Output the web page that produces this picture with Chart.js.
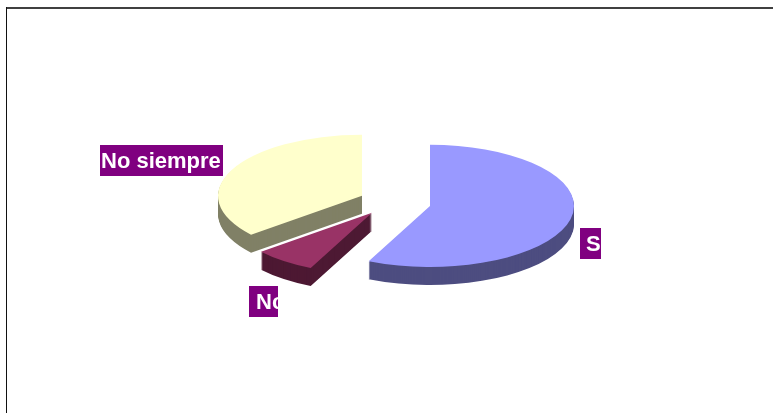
<!DOCTYPE html>
<html>
<head>
<meta charset="utf-8">
<style>
    html, body { margin: 0; padding: 0; background: #fff; overflow: hidden; }
    canvas { display: block; }
</style>
<script src="https://cdn.jsdelivr.net/npm/chart.js@4/dist/chart.umd.min.js"></script>
</head>
<body>
<canvas id="pieChart" width="773" height="413"></canvas>
<script>
const categories = ['Si', 'No', 'No siempre'];
const values = [57, 7, 36];
const topColors = ['#9999ff', '#993366', '#ffffcc'];
const sideColors = ['#4d4d80', '#4d1933', '#808066'];

// tilt of the pie, height of its side wall, how far slices are pulled out
const squash = 0.424;
const depth = 18;
const explode = 36.7;

// small per slice corrections, in pixels
const nudgeX = [0, 0, 1];
const nudgeY = [0, -2, 0];

// Label boxes, the text is cut at the box edge like in the original
const labelBoxes = [
    { x: 580, y: 228, w: 21, h: 31, indent: 6 },
    { x: 249, y: 286, w: 29, h: 31, indent: 7 },
    { x: 100, y: 145, w: 123, h: 31, indent: 1 }
];

// Draw one slice squashed, pulled out and moved down by "down" pixels
function drawSlice(ctx, arc, i, down) {
    const mid = (arc.startAngle + arc.endAngle) / 2;
    // whole pixel x so the straight edges stay sharp
    const apexX = Math.round(arc.x + Math.cos(mid) * explode) + nudgeX[i];
    ctx.save();
    ctx.translate(apexX - arc.x, arc.y + down + nudgeY[i]);
    ctx.scale(1, squash);
    ctx.translate(0, -arc.y + Math.sin(mid) * explode);
    arc.draw(ctx);
    ctx.restore();
}

const pie3d = {
    id: 'pie3d',
    beforeDraw(chart) {
        const ctx = chart.ctx;
        ctx.save();
        ctx.fillStyle = '#fff';
        ctx.fillRect(0, 0, chart.width, chart.height);
        // frame, only top and left fall inside the picture
        ctx.fillStyle = '#404040';
        ctx.fillRect(6, 7, 767, 2);
        ctx.fillStyle = '#111';
        ctx.fillRect(6, 7, 1, 406);
        ctx.restore();
    },
    beforeDatasetDraw(chart, args) {
        const ctx = chart.ctx;
        const arcs = chart.getDatasetMeta(args.index).data;
        // side walls: the same arcs repeated downwards in the dark colour
        arcs.forEach((arc, i) => {
            const opts = arc.options;
            arc.options = Object.create(opts, {
                backgroundColor: { value: sideColors[i] }
            });
            for (let d = depth; d >= 1; d--) {
                drawSlice(ctx, arc, i, d);
            }
            arc.options = opts;
        });
        arcs.forEach((arc, i) => drawSlice(ctx, arc, i, 0));
        return false;
    },
    afterDraw(chart) {
        const ctx = chart.ctx;
        ctx.save();
        ctx.font = 'bold 22px "Liberation Sans", Arial, sans-serif';
        ctx.textBaseline = 'middle';
        categories.forEach((label, i) => {
            const box = labelBoxes[i];
            ctx.save();
            ctx.beginPath();
            ctx.rect(box.x, box.y, box.w, box.h);
            ctx.clip();
            ctx.fillStyle = '#800080';
            ctx.fillRect(box.x, box.y, box.w, box.h);
            ctx.fillStyle = '#fff';
            ctx.fillText(label, box.x + box.indent, box.y + box.h / 2 + 1);
            ctx.restore();
        });
        ctx.restore();
    }
};

var ctx1 = document.getElementById('pieChart').getContext('2d');
var pieChart = new Chart(ctx1, {
    type: 'pie',
    data: {
        labels: categories,
        datasets: [{
            data: values,
            backgroundColor: topColors,
            borderWidth: 0
        }]
    },
    options: {
        responsive: false,
        animation: false,
        radius: 144,
        layout: {
            padding: { left: 15, bottom: 8 }
        },
        plugins: {
            legend: { display: false },
            tooltip: { enabled: false }
        }
    },
    plugins: [pie3d]
});
</script>
</body>
</html>
